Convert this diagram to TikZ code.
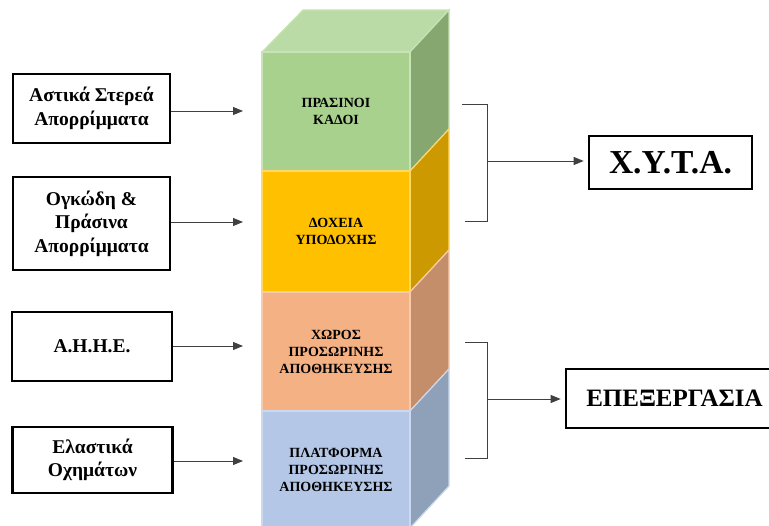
\documentclass[tikz,border=0pt]{standalone}
\usepackage{fontspec}
\setmainfont{Liberation Serif}
\usetikzlibrary{arrows.meta}
\definecolor{gF}{HTML}{A9D18E}\definecolor{gS}{HTML}{86A870}\definecolor{gT}{HTML}{BBDBA6}\definecolor{gE}{HTML}{C8E3B6}
\definecolor{yF}{HTML}{FFC000}\definecolor{yS}{HTML}{CC9A00}\definecolor{yE}{HTML}{FFD766}
\definecolor{oF}{HTML}{F4B183}\definecolor{oS}{HTML}{C38E69}\definecolor{oE}{HTML}{F8CBAD}
\definecolor{bF}{HTML}{B4C7E7}\definecolor{bS}{HTML}{8FA0B9}\definecolor{bE}{HTML}{CBD8EE}
\definecolor{lineC}{HTML}{404040}
\tikzset{
  srcbox/.style={draw=black,line width=2.6pt,fill=white,align=center,font=\bfseries\fontsize{19.5}{23.5}\selectfont,inner sep=0pt},
  dstbox/.style={draw=black,line width=2.6pt,fill=white,align=center,inner sep=0pt},
  layer/.style={line width=1.2pt,align=center,inner sep=0pt,font=\bfseries\fontsize{14}{17}\selectfont},
  conn/.style={draw=lineC,line width=0.9pt,-{Triangle[length=10pt,width=8pt]}},
  brk/.style={draw=lineC,line width=0.9pt}
}
\begin{document}
\begin{tikzpicture}[x=1pt,y=-1pt]
\useasboundingbox (0,0) rectangle (769,526);
% cube side and top faces
\fill[gT,draw=gE,line width=1.2pt] (262,52) -- (303,10) -- (449,10) -- (410,52) -- cycle;
\filldraw[fill=gS,draw=gE,line width=1.2pt] (410,52) -- (449,10) -- (449,129) -- (410,171) -- cycle;
\filldraw[fill=yS,draw=yE,line width=1.2pt] (410,171) -- (449,129) -- (449,250) -- (410,292) -- cycle;
\filldraw[fill=oS,draw=oE,line width=1.2pt] (410,292) -- (449,250) -- (449,369) -- (410,411) -- cycle;
\filldraw[fill=bS,draw=bE,line width=1.2pt] (410,411) -- (449,369) -- (449,486) -- (410,528) -- cycle;
% front faces
\node[layer,fill=gF,draw=gE,minimum width=148pt,minimum height=119pt] (g1) at (336,111.5) {ΠΡΑΣΙΝΟΙ\\ΚΑΔΟΙ};
\node[layer,fill=yF,draw=yE,minimum width=148pt,minimum height=121pt] (g2) at (336,231.5) {ΔΟΧΕΙΑ\\ΥΠΟΔΟΧΗΣ};
\node[layer,fill=oF,draw=oE,minimum width=148pt,minimum height=119pt] (g3) at (336,351.5) {ΧΩΡΟΣ\\ΠΡΟΣΩΡΙΝΗΣ\\ΑΠΟΘΗΚΕΥΣΗΣ};
\node[layer,fill=bF,draw=bE,minimum width=148pt,minimum height=117pt] (g4) at (336,469.5) {ΠΛΑΤΦΟΡΜΑ\\ΠΡΟΣΩΡΙΝΗΣ\\ΑΠΟΘΗΚΕΥΣΗΣ};
% source boxes
\node[srcbox,minimum width=157pt,minimum height=69pt] (a1) at (91.5,108.5) {Αστικά Στερεά\\Απορρίμματα};
\node[srcbox,minimum width=157pt,minimum height=93pt] (a2) at (91.5,223.5) {Ογκώδη \&\\Πράσινα\\Απορρίμματα};
\node[srcbox,minimum width=160pt,minimum height=69pt] (a3) at (92,346.5) {Α.Η.Η.Ε.};
\node[srcbox,minimum width=160pt,minimum height=66pt] (a4) at (92.5,460) {Ελαστικά\\Οχημάτων};
\coordinate (t1) at (243,111);
\coordinate (t2) at (243,222);
\coordinate (t3) at (243,346);
\coordinate (t4) at (243,461);
\draw[conn] (a1.east |- t1) -- (t1);
\draw[conn] (a2.east |- t2) -- (t2);
\draw[conn] (a3.east |- t3) -- (t3);
\draw[conn] (a4.east |- t4) -- (t4);
% destination boxes
\node[dstbox,font=\bfseries\fontsize{33.5}{36}\selectfont,minimum width=163pt,minimum height=53pt] (x1) at (670.5,162.5) {Χ.Υ.Τ.Α.};
\node[dstbox,font=\bfseries\fontsize{25}{29}\selectfont,minimum width=217pt,minimum height=59pt] (x2) at (674.5,398.5) {ΕΠΕΞΕΡΓΑΣΙΑ};
% brackets
\coordinate (b1t) at (462,104); \coordinate (b1m) at (487,161); \coordinate (b1b) at (465,221);
\draw[brk] (b1t) -- (b1m |- b1t) -- (b1m |- b1b) -- (b1b);
\draw[conn,shorten >=4pt] (b1m) -- (x1.west |- b1m);
\coordinate (b2t) at (465,342); \coordinate (b2m) at (487,399); \coordinate (b2b) at (465,458);
\draw[brk] (b2t) -- (b2m |- b2t) -- (b2m |- b2b) -- (b2b);
\draw[conn,shorten >=4pt] (b2m) -- (x2.west |- b2m);
\end{tikzpicture}
\end{document}
